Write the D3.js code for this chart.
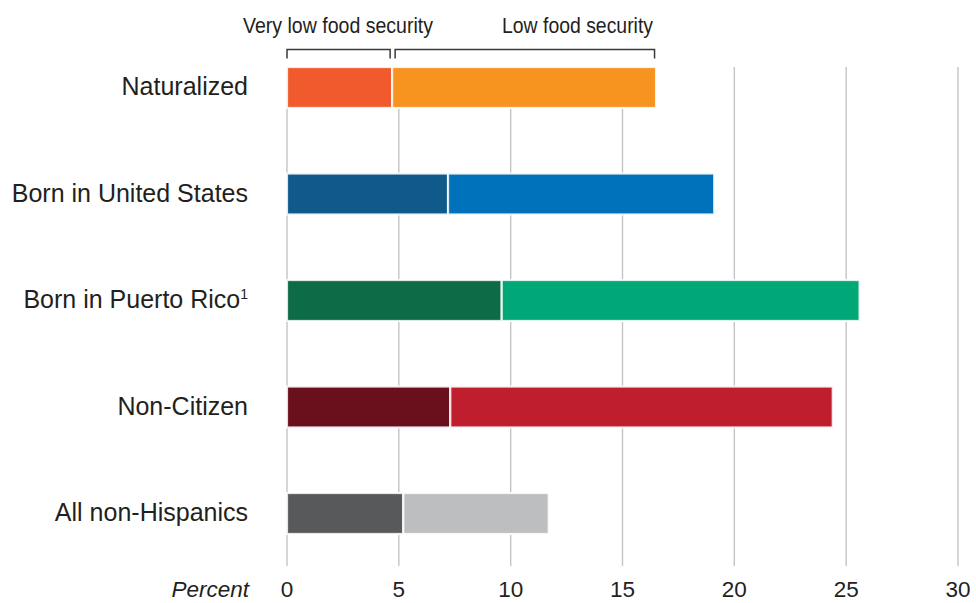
<!DOCTYPE html>
<html>
<head>
<meta charset="utf-8">
<script src="https://cdn.jsdelivr.net/npm/d3@7"></script>
<style>
  html, body { margin: 0; padding: 0; background: #fff; }
  svg { display: block; font-family: "Liberation Sans", Arial, Helvetica, sans-serif; }
</style>
</head>
<body>
<svg id="chart" width="976" height="603"></svg>
<script>
// Food insecurity among groups, percent of households
const categories = ["Naturalized", "Born in United States", "Born in Puerto Rico", "Non-Citizen", "All non-Hispanics"];
const categorySuperscripts = ["", "", "1", "", ""];
const veryLowValues = [4.7, 7.2, 9.6, 7.3, 5.2];
const lowValues = [11.8, 11.9, 16.0, 17.1, 6.5];
const darkColors = ["#F15A2C", "#0F5A8A", "#0D6B48", "#6A0F1C", "#58595B"];
const lightColors = ["#F7941F", "#0072BC", "#00A878", "#BE1E2D", "#BCBEC0"];
const tickValues = [0, 5, 10, 15, 20, 25, 30];
const seriesNames = ["Very low food security", "Low food security"];
const axisTitle = "Percent";

const svg = d3.select("#chart");

const x = d3.scaleLinear().domain([0, 30]).range([287, 958]);
const y = d3.scaleBand()
  .domain(categories)
  .range([34.25, 566.75])
  .paddingInner(0.625)
  .paddingOuter(0.3125);

const gridTop = 67, gridBottom = 566;

// vertical gridlines
svg.append("g")
  .selectAll("line")
  .data(tickValues)
  .join("line")
  .attr("x1", d => x(d)).attr("x2", d => x(d))
  .attr("y1", gridTop).attr("y2", gridBottom)
  .attr("stroke", "#c4c4c6")
  .attr("stroke-width", 1.4);

// tick labels
svg.append("g")
  .selectAll("text")
  .data(tickValues)
  .join("text")
  .attr("x", d => x(d))
  .attr("y", 597)
  .attr("text-anchor", "middle")
  .attr("font-size", 22.5)
  .attr("fill", "#231f20")
  .text(d => d);

svg.append("text")
  .attr("x", 249).attr("y", 597)
  .attr("text-anchor", "end")
  .attr("font-size", 22.5)
  .attr("font-style", "italic")
  .attr("fill", "#231f20")
  .text(axisTitle);

// stacked bars
const rows = categories.map((c, i) => ({
  cat: c,
  segs: [
    { x0: 0, x1: veryLowValues[i], color: darkColors[i] },
    { x0: veryLowValues[i], x1: veryLowValues[i] + lowValues[i], color: lightColors[i] }
  ]
}));

const barG = svg.append("g")
  .selectAll("g")
  .data(rows)
  .join("g")
  .attr("transform", d => `translate(0,${y(d.cat)})`);

barG.selectAll("rect")
  .data(d => d.segs)
  .join("rect")
  .attr("x", d => x(d.x0))
  .attr("width", d => x(d.x1) - x(d.x0))
  .attr("y", -0.5)
  .attr("height", y.bandwidth() + 1)
  .attr("fill", d => d.color)
  .attr("stroke", "#fff")
  .attr("stroke-opacity", 0.85)
  .attr("stroke-width", 2.2);

// category labels
const labels = svg.append("g")
  .selectAll("text")
  .data(categories)
  .join("text")
  .attr("x", 248)
  .attr("y", d => y(d) + y.bandwidth() / 2 + 7.5)
  .attr("text-anchor", "end")
  .attr("font-size", 25)
  .attr("fill", "#231f20");
labels.append("tspan").text(d => d);
labels.append("tspan")
  .attr("font-size", 14)
  .attr("dy", -9)
  .text((d, i) => categorySuperscripts[i]);

// legend brackets over the first bar
const vl0 = veryLowValues[0], tot0 = veryLowValues[0] + lowValues[0];
const brackets = [
  { a: x(0), b: x(vl0) - 2, label: seriesNames[0], len: 190, tx: 338, anchor: "middle" },
  { a: x(vl0) + 3, b: x(tot0) - 1.5, label: seriesNames[1], len: 151, tx: 653, anchor: "end" }
];
const bg = svg.append("g");
brackets.forEach(b => {
  bg.append("path")
    .attr("d", `M${b.a},58.5 V49.5 H${b.b} V58.5`)
    .attr("fill", "none")
    .attr("stroke", "#3a3a3a")
    .attr("stroke-width", 1.5);
  bg.append("text")
    .attr("x", b.tx)
    .attr("y", 33)
    .attr("text-anchor", b.anchor)
    .attr("font-size", 21.5)
    .attr("fill", "#231f20")
    .attr("textLength", b.len)
    .attr("lengthAdjust", "spacingAndGlyphs")
    .text(b.label);
});
</script>
</body>
</html>
